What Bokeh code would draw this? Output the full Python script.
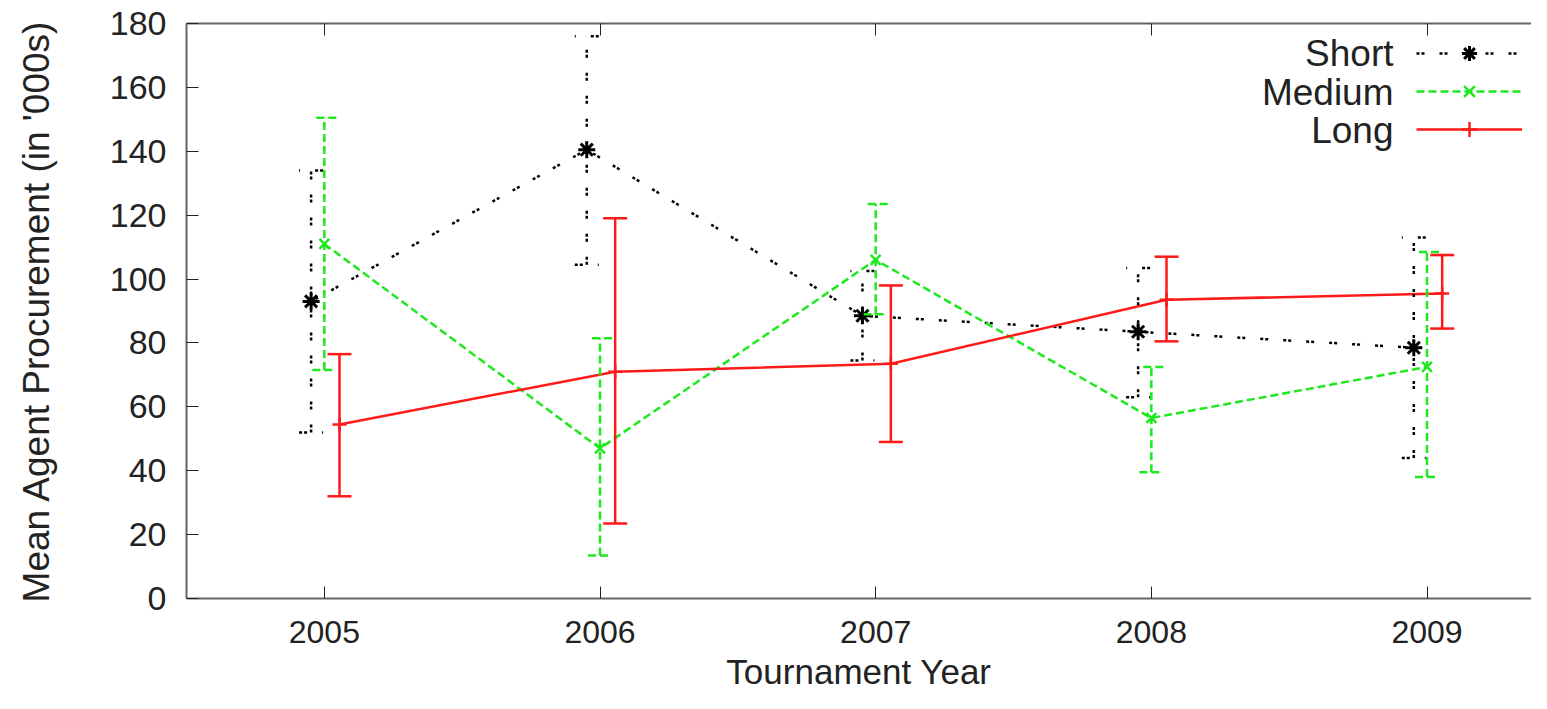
from bokeh.plotting import figure
from bokeh.models import (Range1d, FixedTicker, LinearAxis, ColumnDataSource, Whisker,
                          TeeHead, Legend, LegendItem, Label, CustomJSTickFormatter)
from bokeh.embed import file_html
from bokeh.resources import INLINE

# ---- data ----
years = [2005, 2006, 2007, 2008, 2009]
series_names = ["Short", "Medium", "Long"]

short_mean = [93, 140.5, 88.5, 83.5, 78.5]
short_low = [52, 104.5, 74.5, 63, 44]
short_high = [134, 176, 102.5, 103.5, 113]

medium_mean = [111, 47, 106, 56.5, 72.5]
medium_low = [71.5, 13.5, 89, 39.5, 38]
medium_high = [150.5, 81.5, 123.5, 72.5, 108.5]

long_mean = [54.5, 71, 73.5, 93.5, 95.5]
long_low = [32, 23.5, 49, 80.5, 84.5]
long_high = [76.5, 119, 98, 107, 107.5]

y_ticks = [0, 20, 40, 60, 80, 100, 120, 140, 160, 180]

# ---- styles ----
styles = {
    "Short": dict(color="#000000", dash="3 2 3 15", width=2.5, marker="asterisk", msize=17, mwidth=3, offset=-0.048),
    "Medium": dict(color="#1ee81e", dash="8 4", width=2.5, marker="x", msize=14, mwidth=2.5, offset=0.0),
    "Long": dict(color="#ff1a1a", dash="solid", width=2.5, marker="cross", msize=14, mwidth=2.5, offset=0.055),
}
data = {
    "Short": (short_mean, short_low, short_high),
    "Medium": (medium_mean, medium_low, medium_high),
    "Long": (long_mean, long_low, long_high),
}

FONT = "Liberation Sans"
TEXT = "#222222"
AX = "#666666"

p = figure(width=1531, height=693, x_range=Range1d(2004.5, 2009.379), y_range=Range1d(0, 180),
           output_backend="svg", toolbar_location=None,
           min_border_left=186, min_border_right=0, min_border_top=23, min_border_bottom=95)
p.outline_line_color = None
p.xgrid.grid_line_color = None
p.ygrid.grid_line_color = None
p.background_fill_color = "white"

xa = p.xaxis[0]
xa.ticker = FixedTicker(ticks=years)
xa.major_tick_in = 12
xa.major_tick_out = 0
xa.minor_tick_line_color = None
xa.axis_line_color = AX
xa.axis_line_width = 2
xa.major_tick_line_color = "#222222"
xa.major_label_text_font = FONT
xa.major_label_text_font_size = "32px"
xa.major_label_text_color = TEXT
xa.major_label_standoff = 22
xa.axis_label = "Tournament Year"
xa.axis_label_text_font = FONT
xa.axis_label_text_font_size = "35px"
xa.axis_label_text_font_style = "normal"
xa.axis_label_text_color = TEXT
xa.axis_label_standoff = 6

ya = p.yaxis[0]
ya.ticker = FixedTicker(ticks=y_ticks)
ya.major_tick_in = 12
ya.major_tick_out = 0
ya.minor_tick_line_color = None
ya.axis_line_color = AX
ya.axis_line_width = 2
ya.major_tick_line_color = "#222222"
ya.major_label_text_font = FONT
ya.major_label_text_font_size = "34px"
ya.major_label_text_color = TEXT
ya.major_label_standoff = 20
ya.axis_label = "Mean Agent Procurement (in '000s)"
ya.axis_label_text_font = FONT
ya.axis_label_text_font_size = "37px"
ya.axis_label_text_font_style = "normal"
ya.axis_label_text_color = TEXT
ya.axis_label_standoff = 50

top = LinearAxis(ticker=FixedTicker(ticks=years), major_tick_in=12, major_tick_out=0,
                 minor_tick_line_color=None, axis_line_color=AX, axis_line_width=2,
                 major_tick_line_color="#222222", major_label_standoff=0,
                 major_label_text_font_size="1px",
                 formatter=CustomJSTickFormatter(code="return ''"))
p.add_layout(top, "above")

main_items = []
for name in series_names:
    st = styles[name]
    mean, low, high = data[name]
    src = ColumnDataSource(dict(x=[y + st["offset"] for y in years], mean=mean, low=low, high=high))
    head_kw = dict(size=24, line_color=st["color"], line_width=st["width"], line_dash=st["dash"])
    w = Whisker(source=src, base="x", upper="high", lower="low", dimension="height",
                line_color=st["color"], line_width=st["width"], line_dash=st["dash"],
                upper_head=TeeHead(**head_kw), lower_head=TeeHead(**head_kw), level="glyph")
    p.add_layout(w)
    lr = p.line("x", "mean", source=src, line_color=st["color"], line_width=st["width"],
                line_dash=st["dash"])
    sr = p.scatter("x", "mean", source=src, marker=st["marker"], size=st["msize"],
                   line_color=st["color"], line_width=st["mwidth"], fill_color=st["color"])
    main_items.append(LegendItem(label=" ", renderers=[lr, sr]))

FH = 577
LEG_TOP = 13
p.add_layout(Legend(items=main_items, location=(1230, FH - LEG_TOP - 114), glyph_width=106,
                    glyph_height=38, spacing=0, padding=0, margin=0, label_standoff=0, label_width=0,
                    label_text_font_size="2px", border_line_alpha=0, background_fill_alpha=0), "center")

for i, name in enumerate(series_names):
    p.add_layout(Label(x=1207, y=FH - 32 - i * 38.5, x_units="screen", y_units="screen", text=name,
                       text_align="right", text_baseline="middle",
                       text_font=FONT, text_font_size="37px", text_color=TEXT))

open("out.html", "w").write(file_html(p, INLINE))
